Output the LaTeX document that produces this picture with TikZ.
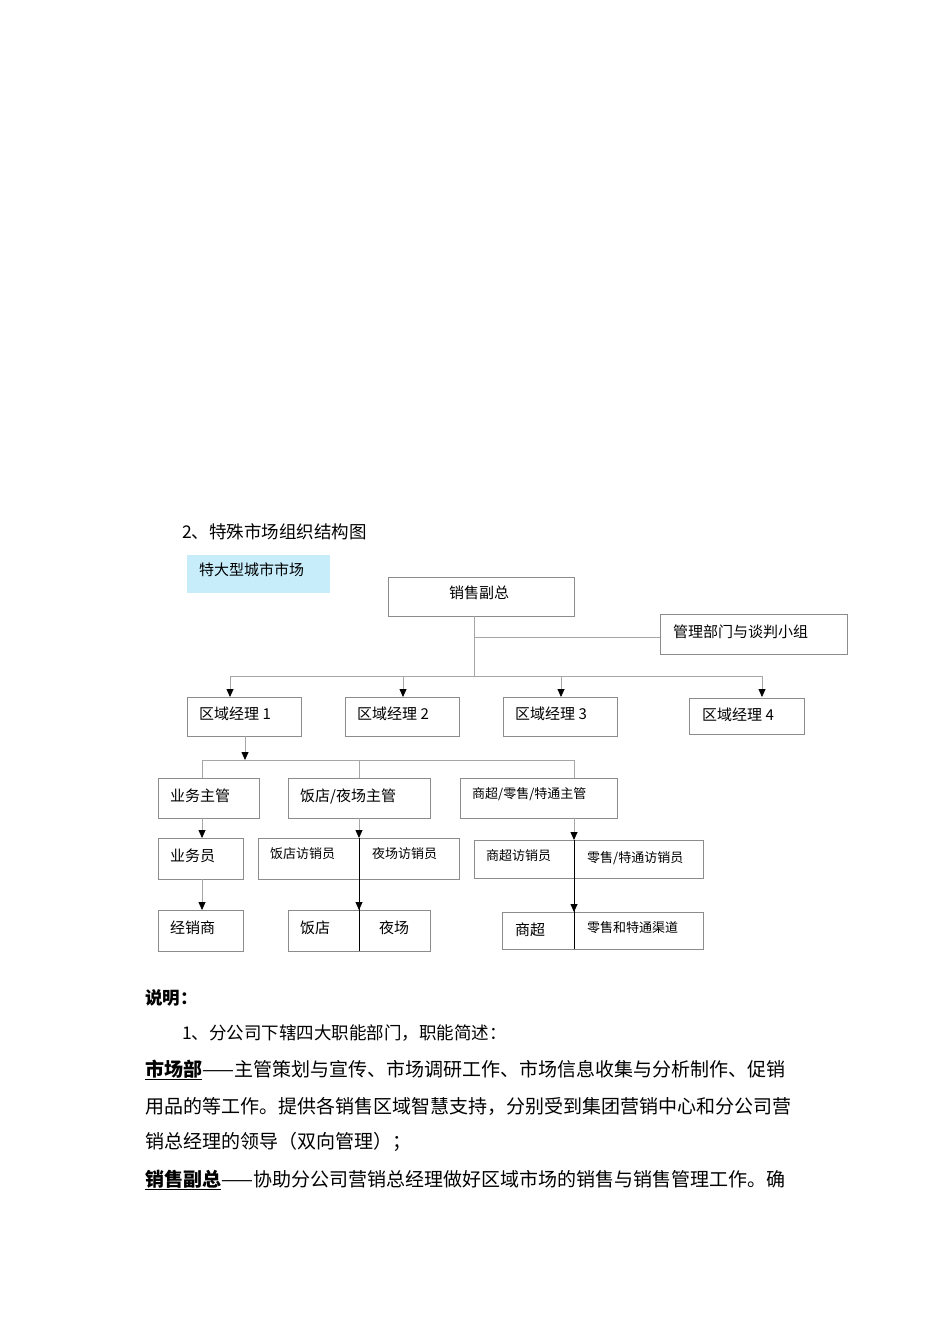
\documentclass[tikz,border=0pt]{standalone}
\usepackage{fontspec}
\setmainfont{Liberation Serif}
\newfontfamily\cjk{Noto Sans CJK SC}
\usetikzlibrary{arrows.meta}
\begin{document}
\begin{tikzpicture}[x=1pt,y=-1pt,
  bx/.style={draw=black!45,line width=0.8pt},
  ln/.style={draw=black!35,line width=0.8pt},
  ar/.style={ln,-{Triangle[black,length=8pt,width=7pt]}},
  dv/.style={draw=black,line width=0.8pt},
  lb/.style={anchor=west,font=\cjk\fontsize{15}{15}\selectfont,inner sep=0pt},
  sm/.style={anchor=west,font=\cjk\fontsize{13}{13}\selectfont,inner sep=0pt},
  tx/.style={anchor=west,font=\cjk\fontsize{17.5}{17.5}\selectfont,inner sep=0pt}]
\useasboundingbox (0,0) rectangle (950,1344);
\fill[white] (0,0) rectangle (950,1344);
\node[tx] (title) at (182,532) {2、特殊市场组织结构图};
\fill[cyan!22] (187,555) rectangle (330,593);
\node[lb] (tc) at (199,570) {特大型城市市场};
% boxes
\draw[bx] (388,577) rectangle (574,616); \node[lb] (vp) at (449,593) {销售副总};
\draw[bx] (660,614) rectangle (847,654); \node[lb] (mg) at (673,632) {管理部门与谈判小组};
\draw[bx] (187,697) rectangle (301,736); \node[lb] (r1) at (199,714) {区域经理 1};
\draw[bx] (345,697) rectangle (459,736); \node[lb] (r2) at (357,714) {区域经理 2};
\draw[bx] (503,697) rectangle (617,736); \node[lb] (r3) at (515,714) {区域经理 3};
\draw[bx] (689,698) rectangle (804,734); \node[lb] (r4) at (702,715) {区域经理 4};
\draw[bx] (158,778) rectangle (259,818); \node[lb] (s1) at (170,796) {业务主管};
\draw[bx] (288,778) rectangle (430,818); \node[lb] (s2) at (300,796) {饭店/夜场主管};
\draw[bx] (460,778) rectangle (617,818); \node[sm] (s3) at (472,794) {商超/零售/特通主管};
\draw[bx] (158,838) rectangle (243,879); \node[lb] (p1) at (170,856) {业务员};
\draw[bx] (258,838) rectangle (459,879); \node[sm] (p2) at (270,854) {饭店访销员}; \node[sm] (p3) at (372,854) {夜场访销员};
\draw[bx] (474,840) rectangle (703,878); \node[sm] (p4) at (486,856) {商超访销员}; \node[sm] (p5) at (587,858) {零售/特通访销员};
\draw[bx] (158,910) rectangle (243,951); \node[lb] (d1) at (170,928) {经销商};
\draw[bx] (288,910) rectangle (430,951); \node[lb] (d2) at (300,928) {饭店}; \node[lb] (d3) at (379,928) {夜场};
\draw[bx] (502,912) rectangle (703,949); \node[lb] (d4) at (515,930) {商超}; \node[sm] (d5) at (587,928) {零售和特通渠道};
% connectors
\draw[ln] (474,616) -- (474,676);
\draw[ln] (474,637) -- (660,637);
\draw[ln] (230,676) -- (762,676);
\foreach \x in {230,403,561,762} \draw[ar] (\x,676) -- (\x,697);
\draw[ar] (245,736) -- (245,760);
\draw[ln] (202,760) -- (574,760);
\foreach \x in {202,359,574} \draw[ln] (\x,760) -- (\x,778);
\draw[ar] (202,818) -- (202,838);
\draw[ar] (202,879) -- (202,910);
\draw[ar] (359,818) -- (359,838);
\draw[ar] (359,879) -- (359,910);
\draw[ar] (574,818) -- (574,840);
\draw[ar] (574,878) -- (574,912);
\draw[dv] (359,838) -- (359,951);
\draw[dv] (574,840) -- (574,949);
% text
\node[tx,font=\cjk\bfseries\fontsize{17.5}{17.5}\selectfont] (sm) at (145,998) {说明：};
\node[tx] (l0) at (182,1033) {1、分公司下辖四大职能部门，职能简述：};
\node[tx,font=\cjk\fontsize{19}{19}\selectfont] (l1) at (145,1070) {\textbf{\underline{市场部}}——主管策划与宣传、市场调研工作、市场信息收集与分析制作、促销};
\node[tx,font=\cjk\fontsize{19}{19}\selectfont] (l2) at (145,1106) {用品的等工作。提供各销售区域智慧支持，分别受到集团营销中心和分公司营};
\node[tx,font=\cjk\fontsize{19}{19}\selectfont] (l3) at (145,1142) {销总经理的领导（双向管理）；};
\node[tx,font=\cjk\fontsize{19}{19}\selectfont] (l4) at (145,1180) {\textbf{\underline{销售副总}}——协助分公司营销总经理做好区域市场的销售与销售管理工作。确};
\end{tikzpicture}
\end{document}
